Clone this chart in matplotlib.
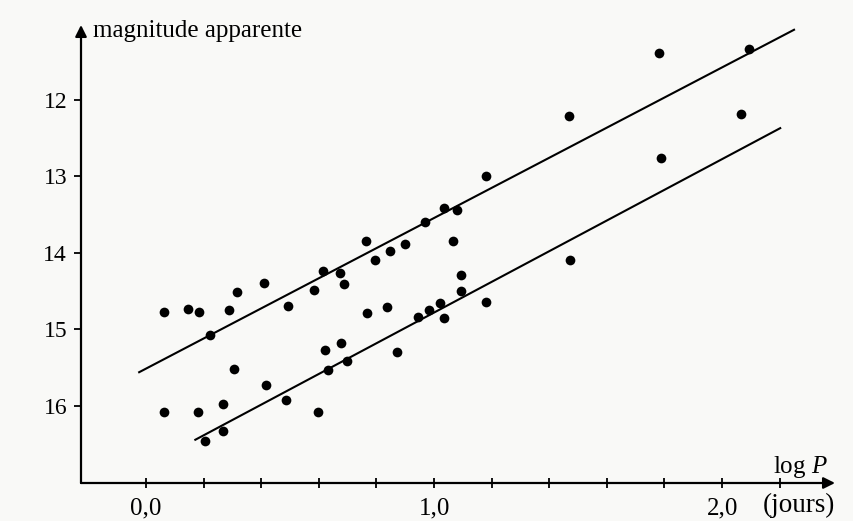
import matplotlib
matplotlib.use("Agg")
import matplotlib.pyplot as plt

plt.rcParams['font.family'] = ['Liberation Serif', 'DejaVu Serif']
plt.rcParams['mathtext.fontset'] = 'custom'
plt.rcParams['mathtext.rm'] = 'Liberation Serif'
plt.rcParams['mathtext.it'] = 'Liberation Serif:italic'

# ---- data (log P in days, apparent magnitude) ----
log_p = [0.062, 0.146, 0.184, 0.288, 0.315, 0.410, 0.493, 0.583, 0.616, 0.674,
         0.688, 0.766, 0.837, 0.795, 0.846, 0.898, 0.763, 0.968, 1.034, 1.080,
         1.067, 1.180, 1.095, 1.095, 1.181, 1.021, 0.983, 0.945, 1.035, 0.870,
         0.622, 0.677, 0.697, 0.633, 0.222, 0.307, 0.417, 0.485, 0.266, 0.266,
         0.205, 0.062, 0.182, 0.597, 1.781, 2.094, 1.468, 2.064, 1.787, 1.472]
mag = [14.77, 14.73, 14.77, 14.75, 14.51, 14.39, 14.69, 14.49, 14.24, 14.26,
       14.41, 14.78, 14.71, 14.09, 13.98, 13.88, 13.84, 13.60, 13.41, 13.44,
       13.84, 12.99, 14.29, 14.50, 14.64, 14.66, 14.74, 14.84, 14.85, 15.29,
       15.27, 15.18, 15.41, 15.53, 15.07, 15.52, 15.73, 15.92, 15.97, 16.33,
       16.46, 16.08, 16.08, 16.08, 11.39, 11.34, 12.21, 12.18, 12.76, 14.09]

upper_line_x = [-0.027, 2.253]
upper_line_y = [15.565, 11.076]
lower_line_x = [0.168, 2.205]
lower_line_y = [16.448, 12.362]

x_ticks = [0.0, 0.2, 0.4, 0.6, 0.8, 1.0, 1.2, 1.4, 1.6, 1.8, 2.0, 2.2]
x_tick_labels = ['0,0', '', '', '', '', '1,0', '', '', '', '', '2,0', '']
y_ticks = [12, 13, 14, 15, 16]
y_tick_labels = ['12', '13', '14', '15', '16']

W, H = 854, 521
bg = '#f9f9f7'
fig = plt.figure(figsize=(W / 100, H / 100), dpi=100, facecolor=bg)

left_px, right_px, bottom_px, top_px = 81, 835, 483, 25
ax = fig.add_axes([left_px / W, 1 - bottom_px / H,
                   (right_px - left_px) / W, (bottom_px - top_px) / H])
ax.set_facecolor(bg)

ax.set_xlim(-0.2257, 2.392)
ax.set_ylim(17.007, 11.02)

for s in ax.spines.values():
    s.set_visible(False)

# axes with arrows
ax.annotate('', xy=(1, 0), xytext=(0, 0), xycoords='axes fraction',
            arrowprops=dict(arrowstyle='-|>', color='black', lw=1.6,
                            mutation_scale=17, shrinkA=0, shrinkB=0))
ax.annotate('', xy=(0, 1), xytext=(0, 0), xycoords='axes fraction',
            arrowprops=dict(arrowstyle='-|>', color='black', lw=1.6,
                            mutation_scale=17, shrinkA=0, shrinkB=0))

ax.plot(upper_line_x, upper_line_y, color='black', lw=1.5, solid_capstyle='butt')
ax.plot(lower_line_x, lower_line_y, color='black', lw=1.5, solid_capstyle='butt')
ax.plot(log_p, mag, 'o', color='black', ms=7, mec='black', mew=0)

ax.set_xticks(x_ticks)
ax.set_xticklabels(x_tick_labels)
ax.set_yticks(y_ticks)
ax.set_yticklabels(y_tick_labels)
ax.tick_params(axis='x', direction='inout', length=7, width=1.3, pad=7,
               labelsize=18)
ax.tick_params(axis='y', direction='out', length=5, width=1.3, pad=5,
               labelsize=17)

fig.text(93 / W, 1 - 37 / H, 'magnitude apparente', fontsize=18,
         ha='left', va='baseline')
fig.text(828 / W, 1 - 473 / H, r'log $P$', fontsize=18, ha='right',
         va='baseline')
fig.text(835 / W, 1 - 512 / H, '(jours)', fontsize=19.5, ha='right',
         va='baseline')

fig.savefig('out.png', dpi=100, facecolor=bg)
